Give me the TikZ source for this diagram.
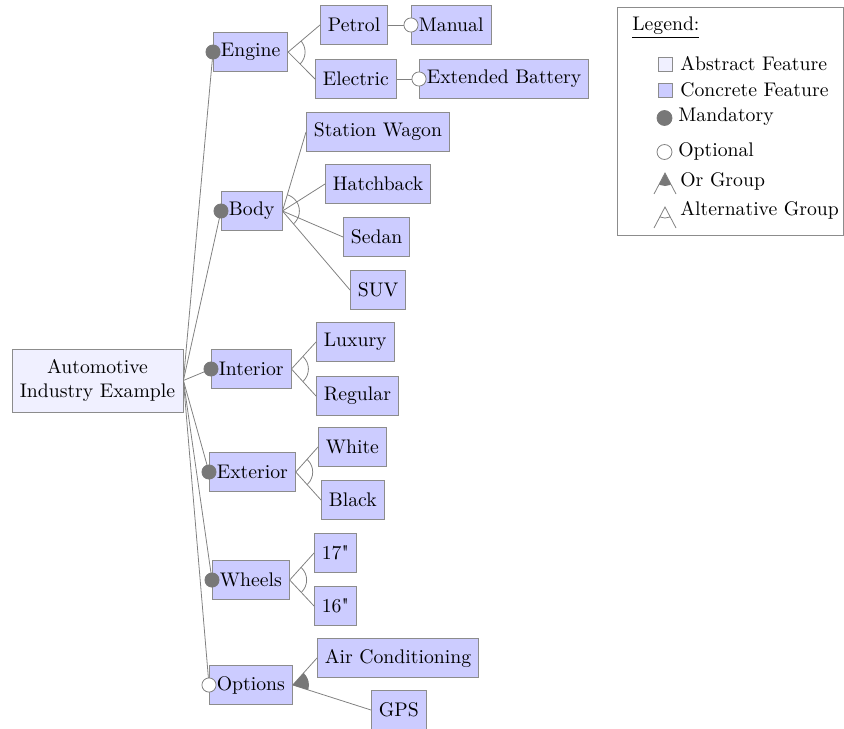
\documentclass[tikz,border=0pt]{standalone}
\usepackage{fontspec}
\usetikzlibrary{calc}
\definecolor{concfill}{RGB}{204,204,255}
\definecolor{absfill}{RGB}{240,240,255}
\definecolor{bordergray}{RGB}{140,140,140}
\definecolor{linegray}{RGB}{128,128,128}
\definecolor{mandgray}{RGB}{120,120,120}
\tikzset{
  conc/.style={draw=bordergray, fill=concfill, inner xsep=3.8pt, inner ysep=0pt, minimum height=19.8pt, anchor=west},
  abst/.style={draw=bordergray, fill=absfill, align=center, inner xsep=3.8pt, minimum width=86.8pt, minimum height=32pt},
  conn/.style={draw=linegray, line width=0.4pt},
  mand/.style={fill=mandgray, draw=mandgray},
  opt/.style={fill=white, draw=linegray},
  legtext/.style={anchor=west, inner sep=0pt},
}
\newcommand{\mandat}[1]{\filldraw[mand] (#1) circle[radius=3.6pt];}
\newcommand{\option}[1]{\filldraw[opt] (#1) circle[radius=3.6pt];}
\newcommand{\altgroup}[3]{\begin{scope}\clip (#1.east) -- ($(#1.east)!4!(#2.west)$) -- ($(#1.east)!4!(#3.west)$) -- cycle; \draw[conn] (#1.east) circle[radius=8.6pt];\end{scope}}
\newcommand{\orgroup}[3]{\begin{scope}\clip (#1.east) -- ($(#1.east)!4!(#2.west)$) -- ($(#1.east)!4!(#3.west)$) -- cycle; \fill[mandgray] (#1.east) circle[radius=8.2pt];\end{scope}}
\begin{document}
\begin{tikzpicture}[x=0.5076pt, y=-0.5076pt]
\useasboundingbox (0,0) rectangle (844,728);
% root
\node[abst] (root) at (97.5,380.5) {Automotive\\Industry Example};
% level 1
\node[conc] (engine) at (213,52) {Engine};
\node[conc] (body) at (221,211) {Body};
\node[conc] (interior) at (211,369) {Interior};
\node[conc] (exterior) at (209,472) {Exterior};
\node[conc] (wheels) at (212,580) {Wheels};
\node[conc] (options) at (209,685) {Options};
% engine
\node[conc] (petrol) at (320,25) {Petrol};
\node[conc] (manual) at (411,25) {Manual};
\node[conc] (electric) at (315,79) {Electric};
\node[conc] (extbat) at (419,79) {Extended Battery};
% body
\node[conc] (sw) at (306,132) {Station Wagon};
\node[conc] (hatch) at (325,184) {Hatchback};
\node[conc] (sedan) at (343,237) {Sedan};
\node[conc] (suv) at (350,290) {SUV};
% interior
\node[conc] (luxury) at (316,342) {Luxury};
\node[conc] (regular) at (316,396) {Regular};
% exterior
\node[conc] (white) at (318,447) {White};
\node[conc] (black) at (321,500) {Black};
% wheels
\node[conc] (w17) at (314,553) {17\textquotedbl};
\node[conc] (w16) at (314,606) {16\textquotedbl};
% options
\node[conc] (ac) at (317,658) {Air Conditioning};
\node[conc] (gps) at (371,710) {GPS};
% connectors
\foreach \c in {engine,body,interior,exterior,wheels,options}
  \draw[conn] (root.east) -- (\c.west);
\draw[conn] (engine.east) -- (petrol.west);
\draw[conn] (engine.east) -- (electric.west);
\draw[conn] (petrol.east) -- (manual.west);
\draw[conn] (electric.east) -- (extbat.west);
\foreach \c in {sw,hatch,sedan,suv} \draw[conn] (body.east) -- (\c.west);
\foreach \c in {luxury,regular} \draw[conn] (interior.east) -- (\c.west);
\foreach \c in {white,black} \draw[conn] (exterior.east) -- (\c.west);
\foreach \c in {w17,w16} \draw[conn] (wheels.east) -- (\c.west);
\foreach \c in {ac,gps} \draw[conn] (options.east) -- (\c.west);
% groups
\altgroup{engine}{petrol}{electric}
\altgroup{body}{sw}{suv}
\altgroup{interior}{luxury}{regular}
\altgroup{exterior}{white}{black}
\altgroup{wheels}{w17}{w16}
\orgroup{options}{ac}{gps}
% markers
\mandat{engine.west}
\mandat{body.west}
\mandat{interior.west}
\mandat{exterior.west}
\mandat{wheels.west}
\option{options.west}
\option{manual.west}
\option{extbat.west}
% legend
\draw[bordergray] (617,7) rectangle (843,235);
\node[legtext] (legtitle) at (632,28) {\underline{Legend:}};
\filldraw[draw=bordergray, fill=absfill] (658,57) rectangle (672,71);
\node[legtext] (labs) at (680,64) {Abstract Feature};
\filldraw[draw=bordergray, fill=concfill] (658,83) rectangle (672,97);
\node[legtext] (lconc) at (680,90) {Concrete Feature};
\filldraw[mand] (664.5,118) circle[radius=3.8pt];
\node[legtext] (lmand) at (678,117) {Mandatory};
\filldraw[opt] (664.5,152) circle[radius=3.8pt];
\node[legtext] (lopt) at (678,151) {Optional};
\begin{scope}
\clip (665,173) -- (643,215) -- (687,215) -- cycle;
\fill[mandgray] (665,173) circle[radius=6.6pt];
\end{scope}
\draw[conn] (654,194) -- (665,173) -- (676,194);
\node[legtext] (lor) at (680,181) {Or Group};
\begin{scope}
\clip (665,207) -- (643,249) -- (687,249) -- cycle;
\draw[conn] (665,207) circle[radius=5.6pt];
\end{scope}
\draw[conn] (654,228) -- (665,207) -- (676,228);
\node[legtext] (lalt) at (680,210) {Alternative Group};
\end{tikzpicture}
\end{document}
